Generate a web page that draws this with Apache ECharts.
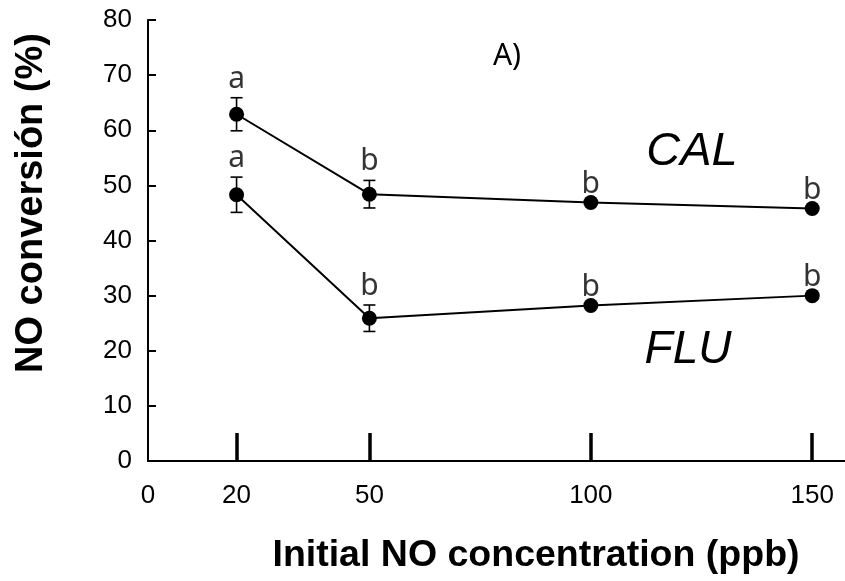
<!DOCTYPE html>
<html>
<head>
<meta charset="utf-8">
<script src="https://cdn.jsdelivr.net/npm/echarts@6/dist/echarts.min.js"></script>
<style>
    html, body { margin: 0; padding: 0; background: #fff; }
    #chart { width: 845px; height: 581px; }
</style>
</head>
<body>
<div id="chart"></div>
<script>
// 数据
const xValues = [20, 50, 100, 150]
const calMean = [62.9, 48.4, 46.9, 45.8]
const calErr = [3.0, 2.5, 0, 0]
const fluMean = [48.3, 25.9, 28.2, 30.0]
const fluErr = [3.2, 2.4, 0, 0]
const calLetters = ['a', 'b', 'b', 'b']
const fluLetters = ['a', 'b', 'b', 'b']
const xLabelValues = [0, 20, 50, 100, 150]
const xTickValues = [20, 50, 100, 150]

const arial = '"Liberation Sans", Arial, sans-serif'
const letterFont = '"Noto Sans", "Open Sans", sans-serif'

function points(mean) {
    return xValues.map((x, i) => [x, mean[i]])
}
function errPoints(mean, err) {
    return xValues.map((x, i) => [x, mean[i], err[i]])
}
function labelPoints(mean, err, letters) {
    return xValues.map((x, i) => ({ value: [x, mean[i] + err[i]], letter: letters[i] }))
}

// 误差线
function renderErr(params, api) {
    const x = api.value(0)
    const m = api.value(1)
    const e = api.value(2)
    if (!e) return
    const top = api.coord([x, m + e])
    const bot = api.coord([x, m - e])
    const w = 6
    const style = { stroke: '#000', lineWidth: 1.6 }
    return {
        type: 'group',
        children: [
            { type: 'line', shape: { x1: top[0], y1: top[1], x2: bot[0], y2: bot[1] }, style: style },
            { type: 'line', shape: { x1: top[0] - w, y1: top[1], x2: top[0] + w, y2: top[1] }, style: style },
            { type: 'line', shape: { x1: bot[0] - w, y1: bot[1], x2: bot[0] + w, y2: bot[1] }, style: style }
        ]
    }
}

function lineSeries(name, mean) {
    return {
        name: name,
        type: 'line',
        data: points(mean),
        symbol: 'circle',
        symbolSize: 15,
        z: 3,
        itemStyle: { color: '#000' },
        lineStyle: { color: '#000', width: 2 }
    }
}

function errSeries(mean, err) {
    return {
        type: 'custom',
        renderItem: renderErr,
        data: errPoints(mean, err),
        encode: { x: 0, y: 1 },
        z: 2
    }
}

function letterSeries(mean, err, letters) {
    return {
        type: 'scatter',
        data: labelPoints(mean, err, letters),
        symbolSize: 1,
        itemStyle: { color: 'transparent' },
        silent: true,
        label: {
            show: true,
            position: 'top',
            distance: 3,
            formatter: p => p.data.letter,
            color: '#000',
            fontFamily: letterFont,
            fontSize: 30
        }
    }
}

const chart = echarts.init(document.getElementById('chart'))
const option = {
    backgroundColor: '#fff',
    animation: false,
    grid: { left: 148, right: 0, top: 20, bottom: 120 },
    xAxis: {
        type: 'value',
        min: 0,
        max: 157.4,
        axisLine: { lineStyle: { color: '#000', width: 2 } },
        axisTick: {
            show: true,
            customValues: xTickValues,
            inside: true,
            length: 28,
            lineStyle: { color: '#000', width: 3.5 }
        },
        axisLabel: {
            customValues: xLabelValues,
            margin: 22,
            color: '#000',
            fontFamily: arial,
            fontSize: 26
        },
        splitLine: { show: false }
    },
    yAxis: {
        type: 'value',
        min: 0,
        max: 80,
        interval: 10,
        axisLine: { show: true, lineStyle: { color: '#000', width: 2 } },
        axisTick: { show: true, inside: true, length: 8, lineStyle: { color: '#000', width: 2 } },
        axisLabel: {
            margin: 16,
            color: '#000',
            fontFamily: arial,
            fontSize: 26
        },
        splitLine: { show: false }
    },
    graphic: [
        {
            type: 'text',
            x: 32,
            y: 203,
            rotation: Math.PI / 2,
            style: {
                text: 'NO conversión (%)',
                fill: '#000',
                font: 'bold 38px ' + arial,
                textAlign: 'center',
                textVerticalAlign: 'middle'
            }
        },
        {
            type: 'text',
            x: 536,
            y: 556,
            style: {
                text: 'Initial NO concentration (ppb)',
                fill: '#000',
                font: 'bold 37.5px ' + arial,
                textAlign: 'center',
                textVerticalAlign: 'middle'
            }
        },
        {
            type: 'text',
            x: 507,
            y: 56,
            style: {
                text: 'A)',
                fill: '#000',
                font: '30px ' + letterFont,
                textAlign: 'center',
                textVerticalAlign: 'middle'
            }
        },
        {
            type: 'text',
            x: 692,
            y: 152,
            style: {
                text: 'CAL',
                fill: '#000',
                font: 'italic 47px ' + arial,
                textAlign: 'center',
                textVerticalAlign: 'middle'
            }
        },
        {
            type: 'text',
            x: 688,
            y: 350,
            style: {
                text: 'FLU',
                fill: '#000',
                font: 'italic 46px ' + arial,
                textAlign: 'center',
                textVerticalAlign: 'middle'
            }
        }
    ],
    series: [
        errSeries(calMean, calErr),
        errSeries(fluMean, fluErr),
        lineSeries('CAL', calMean),
        lineSeries('FLU', fluMean),
        letterSeries(calMean, calErr, calLetters),
        letterSeries(fluMean, fluErr, fluLetters)
    ]
}
chart.setOption(option)
</script>
</body>
</html>
